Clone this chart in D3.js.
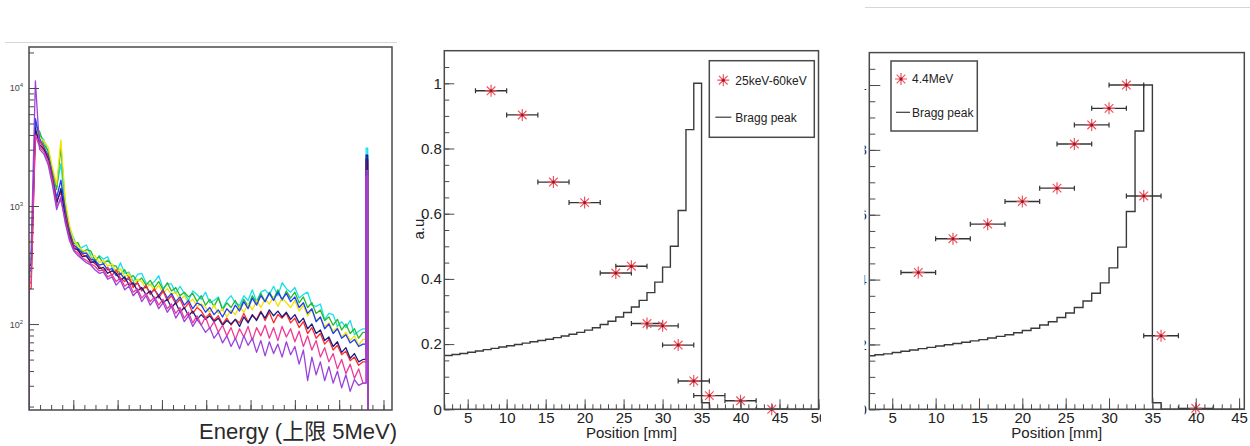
<!DOCTYPE html>
<html>
<head>
<meta charset="utf-8">
<script src="https://cdn.jsdelivr.net/npm/d3@7"></script>
<style>
body { margin: 0; background: #fff; }
svg { display: block; }
text { font-family: "Liberation Sans", Arial, "Noto Sans CJK JP", sans-serif; fill: #222; }
</style>
</head>
<body>
<div id="chart"></div>
<script>
// ---- spectra (left panel): log10(counts) in hundredths, 48 channels per bin
var binWidth = 48;
var cyanLg = [255,372,360,356,346,331,316,336,299,281, 273,263,265,267,258,252,258,255,257,248, 243,252,243,244,236,242,243,235,233,236, 241,230,234,234,226,232,226,220,228,225, 221,227,218,220,223,213,220,224,218,216, 224,220,229,219,227,229,225,232,224,235, 230,227,231,222,225,227,216,215,217,204, 209,208,198,202,197,203,191,194,196,349];
var greenLg = [240,368,363,352,347,329,314,350,302,280, 268,269,261,263,262,254,257,251,254,250, 249,242,246,239,241,236,239,233,237,231, 236,229,235,228,231,224,227,223,226,219, 224,216,221,215,222,212,218,214,220,213, 221,215,224,218,226,219,227,221,229,220, 228,222,227,218,223,214,218,209,212,203, 206,199,204,195,200,192,196,188,193,330];
var yellowLg = [270,365,358,355,350,333,318,356,305,284, 271,266,263,261,257,258,252,254,249,251, 244,247,240,243,234,238,236,230,234,228, 233,226,230,225,227,220,224,218,221,215, 217,214,210,216,209,213,206,212,208,215, 210,217,212,220,214,221,217,223,215,222, 218,214,220,211,216,207,212,203,206,198, 201,194,197,189,193,186,190,182,187,335];
var blueLg = [245,374,357,350,343,326,307,322,296,278, 267,264,260,260,255,254,250,251,246,247, 241,243,238,238,233,235,229,232,226,229, 224,229,222,226,219,223,216,220,213,218, 216,210,214,208,212,206,213,209,216,211, 219,213,222,216,224,219,226,220,227,221, 226,219,223,214,218,209,213,202,206,196, 200,192,196,188,191,184,187,181,183,340];
var redLg = [230,362,355,349,341,324,304,312,293,276, 266,262,259,257,254,251,249,245,248,241, 246,239,236,240,231,235,228,233,225,230, 222,228,220,224,217,221,213,218,209,214, 211,205,209,203,207,200,205,199,204,201, 209,202,207,204,211,203,210,201,208,205, 209,201,205,197,202,192,197,188,192,183, 187,178,182,174,177,169,172,165,168,338];
var navyLg = [250,366,352,348,340,322,302,315,290,275, 264,263,257,258,252,253,247,248,243,245, 243,237,240,233,235,228,231,225,228,221, 224,218,221,214,218,210,214,207,211,204, 208,204,207,202,205,199,203,200,204,198, 206,201,208,203,210,205,212,207,211,206, 210,204,208,201,205,196,200,192,195,186, 189,181,185,176,180,171,175,168,170,343];
var magentaLg = [235,360,350,346,338,321,300,305,288,273, 263,260,256,254,251,249,245,246,240,242, 236,239,232,235,227,230,222,226,219,223, 216,221,213,217,209,214,205,210,201,207, 199,206,196,202,193,199,190,197,187,196, 189,198,186,197,190,199,188,197,186,198, 189,196,185,194,181,190,178,186,172,180, 168,175,162,170,158,166,154,162,150,325];
var purpleLg = [260,406,348,344,335,318,297,308,286,271, 262,258,255,252,250,246,243,244,238,240, 233,237,229,232,224,228,219,224,216,221, 213,218,210,215,205,211,202,207,198,204, 199,193,197,188,193,184,190,181,188,179, 190,182,188,176,186,173,185,175,183,172, 185,174,181,166,178,152,172,157,168,152, 164,150,160,146,157,143,153,148,150,330];

var spectra = [
  {color: "#14e0ee", lg: cyanLg},
  {color: "#26b826", lg: greenLg},
  {color: "#f2e200", lg: yellowLg},
  {color: "#1f3cff", lg: blueLg},
  {color: "#ff2b2b", lg: redLg},
  {color: "#1a1a80", lg: navyLg},
  {color: "#ee3a96", lg: magentaLg},
  {color: "#9b42dc", lg: purpleLg}
];
var decades = [2, 3, 4];

// ---- depth profiles: Bragg curve, 1 mm bins starting at 2 mm
var braggStart = 2;
var braggVals = [0.165,0.168,0.171,0.175,0.179,0.183,0.187,0.191,0.195,0.199,0.203,0.207,0.211,0.215,0.220,0.225,0.230,0.236,0.243,0.250,0.260,0.270,0.283,0.297,0.314,0.334,0.358,0.390,0.436,0.500,0.610,0.858,1.000,0.020];

var lowPos = [8,12,16,20,24,26,28,30,32,34,36,40,44];
var lowVal = [0.977,0.903,0.697,0.634,0.418,0.439,0.263,0.256,0.197,0.087,0.042,0.026,0.0];
var highPos = [8,12,16,20,24,26,28,30,32,34,36,40];
var highVal = [0.422,0.526,0.571,0.641,0.682,0.818,0.877,0.928,1.0,0.658,0.227,0.003];
var posErr = 2;

var yTickVals = [0, 0.2, 0.4, 0.6, 0.8, 1];

var W = 1250, H = 446;
var svg = d3.select("#chart").append("svg")
  .attr("width", W)
  .attr("height", H);

svg.append("rect").attr("width", W).attr("height", H).attr("fill", "#fff");

var frameColor = "#4a4a4a";

// separator lines above the panels
svg.append("line").attr("x1", 5).attr("x2", 397).attr("y1", 42.5).attr("y2", 42.5)
  .attr("stroke", "#d6d6d6").attr("stroke-width", 1);
svg.append("line").attr("x1", 865).attr("x2", 1250).attr("y1", 7.5).attr("y2", 7.5)
  .attr("stroke", "#d6d6d6").attr("stroke-width", 1);

// ================= panel 1 : spectra =================
var p1 = {left: 29, top: 47, right: 392, bottom: 410};
var x1 = d3.scaleLinear().domain([0, 4096]).range([p1.left, p1.right]);
var y1 = d3.scaleLog().domain([18.7, 22250]).range([p1.bottom, p1.top]);

svg.append("clipPath").attr("id", "clip1").append("rect")
  .attr("x", p1.left).attr("y", p1.top)
  .attr("width", p1.right - p1.left).attr("height", p1.bottom - p1.top);

var specLine = d3.line()
  .x(function(d) { return x1(d[0]); })
  .y(function(d) { return d[1] <= 0 ? p1.bottom + 1 : y1(d[1]); });

var g1 = svg.append("g").attr("clip-path", "url(#clip1)");
spectra.forEach(function(s) {
  var n = s.lg.length;
  var c = s.lg.map(function(v) { return Math.pow(10, v / 100); });
  var pts = [[0, 0], [0, c[0]]];
  // bin centres joined, last (edge) bin drawn as a narrow step
  for (var i = 0; i < n - 1; i++) pts.push([(i + 0.5) * binWidth, c[i]]);
  pts.push([(n - 1) * binWidth + 12, c[n - 2]]);
  pts.push([(n - 1) * binWidth + 12, c[n - 1]]);
  pts.push([(n - 1) * binWidth + 30, c[n - 1]]);
  pts.push([(n - 1) * binWidth + 30, 0]);
  pts.push([4096, 0]);
  g1.append("path")
    .attr("d", specLine(pts))
    .attr("fill", "none")
    .attr("stroke", s.color)
    .attr("stroke-width", 1.3)
    .attr("stroke-linejoin", "round");
});

// y ticks (log), pointing inward
var majorY1 = decades.map(function(d) { return Math.pow(10, d); });
var minorY1 = [];
[1, 2, 3, 4].forEach(function(d) {
  for (var k = 2; k < 10; k++) {
    var v = k * Math.pow(10, d);
    if (v > y1.domain()[0] && v < y1.domain()[1]) minorY1.push(v);
  }
});
var ax1 = svg.append("g").attr("transform", "translate(" + p1.left + ",0)");
ax1.call(d3.axisRight(y1).tickValues(minorY1).tickSize(5).tickFormat(""));
ax1.append("g").call(d3.axisRight(y1).tickValues(majorY1).tickSize(10).tickFormat(""));
ax1.selectAll(".domain").remove();
ax1.selectAll("line").attr("stroke", frameColor);

svg.selectAll(".ylab1")
  .data(decades)
  .enter().append("text")
  .attr("class", "ylab1")
  .attr("x", p1.left - 6)
  .attr("y", function(d) { return y1(Math.pow(10, d)) + 3.5; })
  .attr("text-anchor", "end")
  .style("font-size", "9px")
  .style("fill", "#444")
  .html(function(d) { return "10<tspan dy='-4' font-size='6px'>" + d + "</tspan>"; });

// x ticks, pointing inward
var ax1b = svg.append("g").attr("transform", "translate(0," + p1.bottom + ")");
ax1b.call(d3.axisBottom(x1).tickValues(d3.range(125, 4096, 125)).tickSize(-5).tickFormat(""));
ax1b.append("g").call(d3.axisBottom(x1).tickValues(d3.range(500, 4096, 500)).tickSize(-10).tickFormat(""));
ax1b.selectAll(".domain").remove();
ax1b.selectAll("line").attr("stroke", frameColor);

svg.append("rect")
  .attr("x", p1.left).attr("y", p1.top)
  .attr("width", p1.right - p1.left).attr("height", p1.bottom - p1.top)
  .attr("fill", "none").attr("stroke", frameColor).attr("stroke-width", 1.5);

svg.append("text")
  .attr("x", 199).attr("y", 439)
  .style("font-size", "22px")
  .style("fill", "#2a2a2a")
  .text("Energy (上限 5MeV)");

// ================= panels 2 and 3 : depth profiles =================
var star = "M-6,0H6M0,-6V6M-4.3,-4.3L4.3,4.3M-4.3,4.3L4.3,-4.3";

function addMarker(sel) {
  sel.append("path").attr("d", star)
    .attr("stroke", "#ea5560").attr("stroke-width", 1.2).attr("fill", "none");
  sel.append("circle").attr("r", 1.5).attr("fill", "#a0141e");
}

function profilePanel(c) {
  var x = d3.scaleLinear().domain(c.xDomain).range([c.left, c.right]);
  var y = d3.scaleLinear().domain([0, 1.1]).range([c.bottom, c.top]);
  var g = svg.append("g");

  g.append("clipPath").attr("id", c.id + "f").append("rect")
    .attr("x", c.left).attr("y", c.top)
    .attr("width", c.right - c.left).attr("height", c.bottom - c.top);
  g.append("clipPath").attr("id", c.id + "t").append("rect")
    .attr("x", c.clipX[0]).attr("y", 0)
    .attr("width", c.clipX[1] - c.clipX[0]).attr("height", H);

  var plot = g.append("g").attr("clip-path", "url(#" + c.id + "f)");

  // Bragg peak histogram
  var pts = braggVals.map(function(v, i) { return [braggStart + i, v]; });
  pts.push([braggStart + braggVals.length, 0]);
  pts.push([60, 0]);
  plot.append("path")
    .attr("d", d3.line()
      .x(function(d) { return x(d[0]); })
      .y(function(d) { return y(d[1]); })
      .curve(d3.curveStepAfter)(pts))
    .attr("fill", "none")
    .attr("stroke", "#3a3a3a")
    .attr("stroke-width", 1.4);

  // error bars
  var eb = plot.selectAll(".eb")
    .data(c.pos)
    .enter().append("g")
    .attr("transform", function(d, i) { return "translate(0," + y(c.val[i]) + ")"; });
  eb.append("line")
    .attr("x1", function(d) { return x(d - posErr); })
    .attr("x2", function(d) { return x(d + posErr); })
    .attr("stroke", "#333").attr("stroke-width", 1.4);
  eb.append("line")
    .attr("x1", function(d) { return x(d - posErr); })
    .attr("x2", function(d) { return x(d - posErr); })
    .attr("y1", -2.5).attr("y2", 2.5)
    .attr("stroke", "#333").attr("stroke-width", 1.2);
  eb.append("line")
    .attr("x1", function(d) { return x(d + posErr); })
    .attr("x2", function(d) { return x(d + posErr); })
    .attr("y1", -2.5).attr("y2", 2.5)
    .attr("stroke", "#333").attr("stroke-width", 1.2);

  // markers
  var mk = g.selectAll(".mk")
    .data(c.pos)
    .enter().append("g")
    .attr("transform", function(d, i) { return "translate(" + x(d) + "," + y(c.val[i]) + ")"; });
  addMarker(mk);

  // axes, ticks inward
  var xMinor = d3.range(Math.ceil(c.xDomain[0]), c.xDomain[1] + 0.01, 1);
  var xMajor = d3.range(5, c.xDomain[1] + 0.01, 5);
  var yMinor = d3.range(0, 1.1, 0.05);

  var axG = g.append("g").attr("clip-path", "url(#" + c.id + "t)");
  var bx = axG.append("g").attr("transform", "translate(0," + c.bottom + ")");
  bx.call(d3.axisBottom(x).tickValues(xMinor).tickSize(-5).tickFormat(""));
  bx.append("g").call(d3.axisBottom(x).tickValues(xMajor).tickSize(-c.major).tickPadding(3).tickFormat(d3.format("d")));
  var ly = axG.append("g").attr("transform", "translate(" + c.left + ",0)");
  ly.call(d3.axisLeft(y).tickValues(yMinor).tickSize(-c.minorY).tickFormat(""));
  ly.append("g").call(d3.axisLeft(y).tickValues(yTickVals).tickSize(-c.major).tickPadding(2.5)
    .tickFormat(function(d) { return d === 0 ? "0" : d === 1 ? "1" : d3.format(".1f")(d); }));
  axG.selectAll(".domain").remove();
  axG.selectAll("line").attr("stroke", frameColor);
  axG.selectAll("text").style("font-size", "15px").style("font-family", "'Liberation Sans', Arial, sans-serif").attr("fill", "#1a1a1a");

  g.append("rect")
    .attr("x", c.left).attr("y", c.top)
    .attr("width", c.right - c.left).attr("height", c.bottom - c.top)
    .attr("fill", "none").attr("stroke", frameColor).attr("stroke-width", 1.5);

  g.append("text")
    .attr("x", (c.left + c.right) / 2).attr("y", 438)
    .attr("text-anchor", "middle")
    .style("font-size", "15px")
    .text("Position [mm]");

  if (c.yTitle) {
    g.append("text")
      .attr("transform", "translate(" + (c.left - 20.5) + "," + 227 + ") rotate(-90)")
      .attr("text-anchor", "middle")
      .style("font-size", "15px")
      .text(c.yTitle);
  }

  // legend
  var lb = c.legend;
  g.append("rect")
    .attr("x", lb.x).attr("y", lb.y).attr("width", lb.w).attr("height", lb.h)
    .attr("fill", "#fff").attr("stroke", frameColor).attr("stroke-width", 1.5);
  var m = g.append("g").attr("transform", "translate(" + (lb.x + lb.mx) + "," + (lb.y + lb.r1) + ")");
  addMarker(m);
  g.append("text")
    .attr("x", lb.x + lb.tx).attr("y", lb.y + lb.r1 + 4.3)
    .style("font-size", "12px")
    .text(c.label);
  g.append("line")
    .attr("x1", lb.x + lb.l0).attr("x2", lb.x + lb.l1)
    .attr("y1", lb.y + lb.r2).attr("y2", lb.y + lb.r2)
    .attr("stroke", "#3a3a3a").attr("stroke-width", 1.2);
  g.append("text")
    .attr("x", lb.x + lb.tx).attr("y", lb.y + lb.r2 + 4.3)
    .style("font-size", "12px")
    .text("Bragg peak");
}

profilePanel({
  id: "p2", left: 444.3, right: 818.5, top: 50.7, bottom: 409.3,
  xDomain: [2, 50], pos: lowPos, val: lowVal, label: "25keV-60keV",
  major: 10, minorY: 5, clipX: [400, 821], yTitle: "a.u.",
  legend: {x: 709.3, y: 60.7, w: 105, h: 76.6, mx: 14, tx: 26, r1: 19.5, r2: 56.5, l0: 6, l1: 22}
});

profilePanel({
  id: "p3", left: 869.3, right: 1244.3, top: 52.6, bottom: 409.3,
  xDomain: [2.35, 45.6], pos: highPos, val: highVal, label: "4.4MeV",
  major: 11, minorY: 6, clipX: [864.6, 1250], yTitle: null,
  legend: {x: 891, y: 61, w: 86.3, h: 70, mx: 10, tx: 21, r1: 18, r2: 51.3, l0: 5, l1: 19}
});
</script>
</body>
</html>
